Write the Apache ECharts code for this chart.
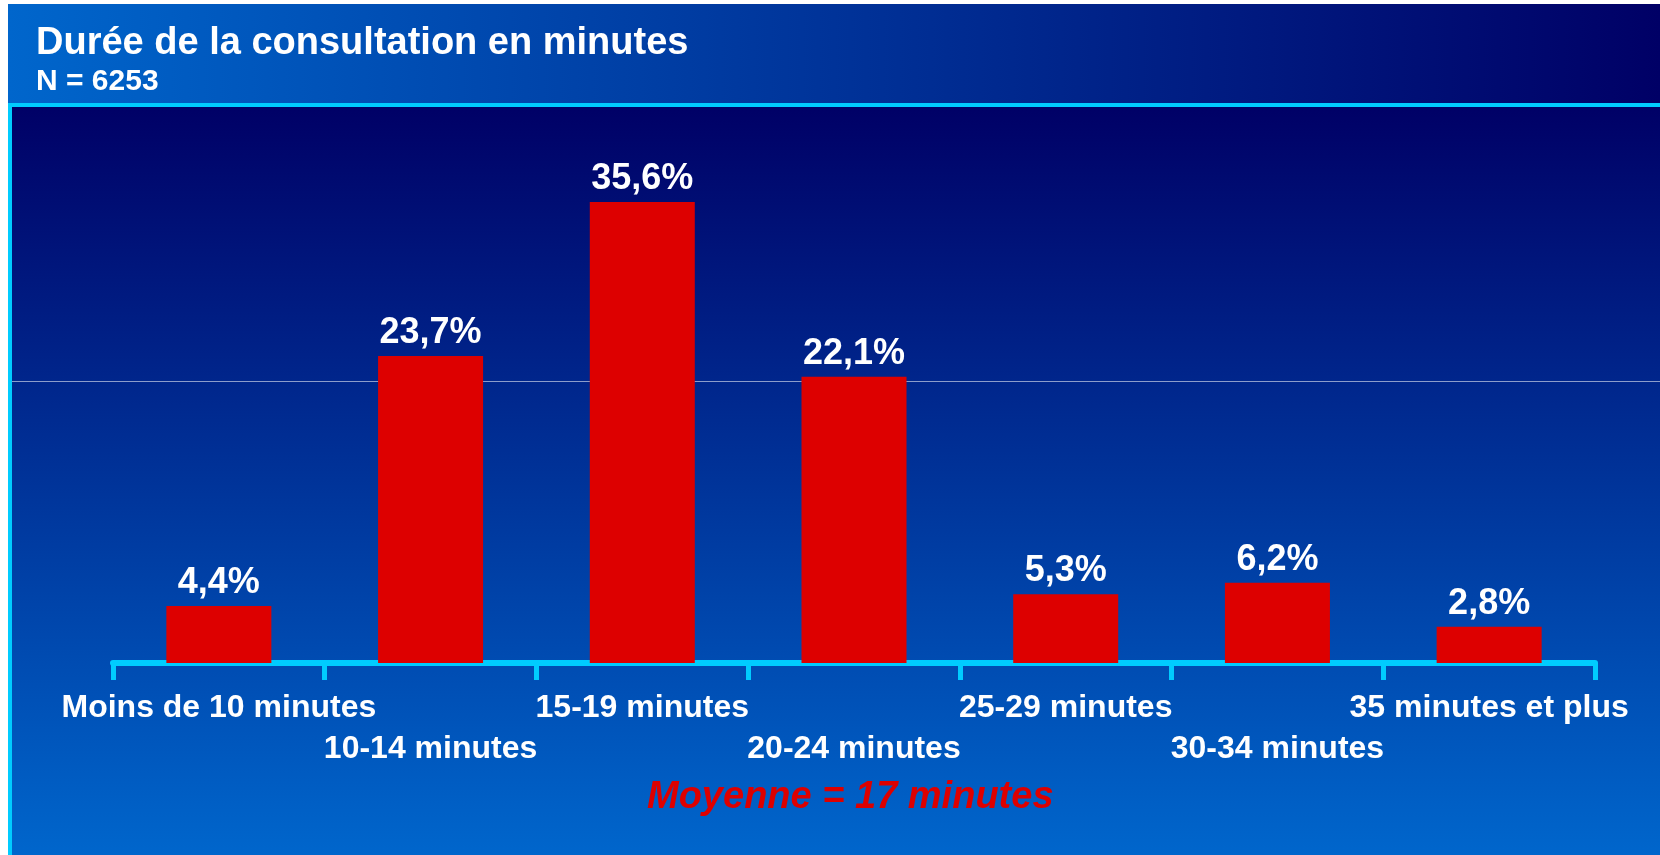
<!DOCTYPE html>
<html>
<head>
<meta charset="utf-8">
<script src="https://cdn.jsdelivr.net/npm/echarts@6/dist/echarts.min.js"></script>
<style>
  html, body { margin: 0; padding: 0; background: #fff; }
  #chart { width: 1660px; height: 855px; }
</style>
</head>
<body>
<div id="chart"></div>
<script>
// données
const categories = ['Moins de 10 minutes', '10-14 minutes', '15-19 minutes', '20-24 minutes', '25-29 minutes', '30-34 minutes', '35 minutes et plus']
const shares = [4.4, 23.7, 35.6, 22.1, 5.3, 6.2, 2.8]
const titleText = 'Durée de la consultation en minutes'
const subtitleText = 'N = 6253'
const noteText = 'Moyenne = 17 minutes'

const FONT = '"Liberation Sans", Arial, sans-serif'

const chart = echarts.init(document.getElementById('chart'))

// formater 35.6 -> "35,6%"
const fmtPct = (v) => v.toFixed(1).replace('.', ',') + '%'

const option = {
  backgroundColor: '#ffffff',
  animation: false,
  graphic: [
    // bandeau du titre
    {
      type: 'rect', z: -10,
      shape: { x: 8, y: 4, width: 1652, height: 100 },
      style: {
        fill: new echarts.graphic.LinearGradient(0, 0, 1, 0, [
          { offset: 0, color: '#0066cc' },
          { offset: 1, color: '#000066' }
        ])
      }
    },
    // zone principale
    {
      type: 'rect', z: -10,
      shape: { x: 8, y: 104, width: 1652, height: 751 },
      style: {
        fill: new echarts.graphic.LinearGradient(0, 0, 0, 1, [
          { offset: 0, color: '#000066' },
          { offset: 1, color: '#0066cc' }
        ])
      }
    },
    // filets cyan
    { type: 'rect', z: -9, shape: { x: 8, y: 103, width: 1652, height: 4 }, style: { fill: '#00ccff' } },
    { type: 'rect', z: -9, shape: { x: 8, y: 103, width: 4, height: 752 }, style: { fill: '#00ccff' } },
    // fine ligne claire
    { type: 'rect', z: -8, shape: { x: 12, y: 381, width: 1648, height: 1 }, style: { fill: 'rgba(255,255,255,0.55)' } },
    // moyenne
    {
      type: 'text', z: 10,
      left: 852 - 205, top: 779,
      style: {
        text: noteText,
        fill: '#dd0000',
        font: 'italic bold 38px ' + FONT
      }
    }
  ],
  title: {
    text: titleText,
    subtext: subtitleText,
    left: 31,
    top: 20,
    itemGap: 4,
    textStyle: { color: '#fff', fontSize: 38, fontWeight: 'bold', fontFamily: FONT },
    subtextStyle: { color: '#fff', fontSize: 30, fontWeight: 'bold', fontFamily: FONT }
  },
  grid: {
    left: 113,
    right: 65,
    top: 145,
    bottom: 192,
    containLabel: false
  },
  xAxis: {
    type: 'category',
    data: categories,
    offset: 3,
    axisLine: { show: true, lineStyle: { color: '#00ccff', width: 6 } },
    axisTick: { show: true, interval: 0, length: 17, lineStyle: { color: '#00ccff', width: 5 } },
    axisLabel: {
      interval: 0,
      color: '#fff',
      fontSize: 32,
      fontWeight: 'bold',
      fontFamily: FONT,
      lineHeight: 41,
      margin: 22,
      formatter: (value, idx) => (idx % 2 ? '\n' + value : value)
    }
  },
  yAxis: {
    type: 'value',
    min: 0,
    max: 40,
    show: false,
    splitLine: { show: false }
  },
  series: [
    {
      type: 'bar',
      data: shares,
      barWidth: 105,
      itemStyle: { color: '#dd0000' },
      label: {
        show: true,
        position: 'top',
        distance: 5,
        color: '#fff',
        fontSize: 36,
        fontWeight: 'bold',
        fontFamily: FONT,
        formatter: (p) => fmtPct(p.value)
      }
    }
  ]
}

chart.setOption(option)
</script>
</body>
</html>
